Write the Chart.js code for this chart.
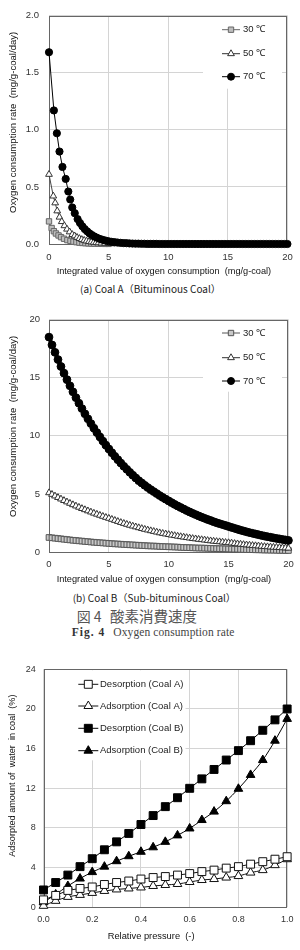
<!DOCTYPE html>
<html><head><meta charset="utf-8">
<script src="https://cdn.jsdelivr.net/npm/chart.js@4"></script>
<style>
html,body{margin:0;padding:0;background:#fff;}
#wrap{position:relative;width:300px;height:950px;overflow:hidden;background:#fff;}
canvas{position:absolute;left:0;}
.cap{position:absolute;white-space:nowrap;color:#222;}
.jp{font-family:'Noto Sans CJK JP',sans-serif;}
.serif{font-family:'Liberation Serif',serif;}
</style></head><body><div id="wrap">
<canvas id="cA" width="300" height="280" style="top:0px"></canvas>
<div class="cap jp" style="left:80px;top:282px;font-size:10px;line-height:14px;">(a) Coal A（Bituminous Coal）</div>
<canvas id="cB" width="300" height="280" style="top:305px"></canvas>
<div class="cap jp" style="left:72.7px;top:591px;font-size:10px;line-height:14px;">(b) Coal B（Sub-bituminous Coal）</div>
<div class="cap jp" style="left:76.7px;top:607px;font-size:14px;line-height:18px;color:#555;">図 4</div>
<div class="cap jp" style="left:110px;top:607px;font-size:14.5px;line-height:18px;color:#555;">酸素消費速度</div>
<div class="cap serif" style="left:71.7px;top:625px;font-size:11.5px;line-height:14px;font-weight:bold;letter-spacing:1px;color:#333;">Fig. 4</div>
<div class="cap serif" style="left:113.3px;top:625px;font-size:11.5px;line-height:14px;letter-spacing:0.1px;color:#444;">Oxygen consumption rate</div>
<canvas id="cC" width="300" height="295" style="top:655px"></canvas>
</div>
<script>
// ---------- data ----------
const tempLabels = ['30 ℃', '50 ℃', '70 ℃'];

// Chart (a) Coal A
const xA30 = [0,0.22,0.41,0.58,0.8,1.01,1.26,1.54,1.8,2.05,2.3,2.55,2.8,3.05,3.3,3.55,3.8,4.1,4.4,4.7,5.0];
const yA30 = [0.198,0.14,0.112,0.092,0.075,0.06,0.046,0.034,0.027,0.021,0.016,0.012,0.009,0.007,0.005,0.004,0.003,0.002,0.002,0.001,0.001];
const xA50 = [0,0.36,0.52,0.69,0.88,1.07,1.29,1.51,1.73,1.95,2.15,2.35,2.55,2.75,2.95,3.15,3.35,3.55,3.75,3.95,4.15,4.4,4.7,5.0,5.3,5.6];
const yA50 = [0.61,0.42,0.36,0.29,0.235,0.196,0.16,0.13,0.106,0.083,0.071,0.058,0.048,0.039,0.032,0.026,0.021,0.018,0.014,0.012,0.01,0.008,0.006,0.004,0.003,0.002];
const xA70 = [0,0.41,0.66,0.88,1.13,1.4,1.62,1.78,1.95,2.16,2.4,2.6,2.8,3,3.2,3.4,3.6,3.8,4,
  4.25,4.5,4.75,5,5.25,5.5,5.75,6,6.25,6.5,6.75,7,7.25,7.5,7.75,8,8.25,8.5,8.75,9,
  9.25,9.5,9.75,10,10.25,10.5,10.75,11,11.25,11.5,11.75,12,12.25,12.5,12.75,13,13.25,13.5,13.75,14,14.25,14.5,14.75,
  15,15.25,15.5,15.75,16,16.25,16.5,16.75,17,17.25,17.5,17.75,18,18.25,18.5,18.75,19,19.25,19.5,19.75,20];
const yA70 = [1.68,1.17,0.97,0.81,0.675,0.57,0.46,0.39,0.32,0.27,0.218,0.184,0.155,0.131,0.111,0.093,0.079,0.066,0.056,
  0.045,0.037,0.03,0.024,0.019,0.016,0.013,0.01,0.008,0.007,0.005,0.004,0.003,0.003,0.002,0.002,0.001,0.001,0.001,0.001,
  0,0,0,0,0,0,0,0,0,0,0, 0,0,0,0,0,0,0,0,0,0,0, 0,0,0,0,0,0,0,0,0,0,0, 0,0,0,0,0,0,0,0,0,0,0];

// Chart (b) Coal B
const xB = [0,0.25,0.5,0.75,1,1.25,1.5,1.75,2,2.25,2.5,2.75,3,3.25,3.5,3.75,4,4.25,4.5,4.75,
  5,5.25,5.5,5.75,6,6.25,6.5,6.75,7,7.25,7.5,7.75,8,8.25,8.5,8.75,9,9.25,9.5,9.75,
  10,10.25,10.5,10.75,11,11.25,11.5,11.75,12,12.25,12.5,12.75,13,13.25,13.5,13.75,14,14.25,14.5,14.75,
  15,15.25,15.5,15.75,16,16.25,16.5,16.75,17,17.25,17.5,17.75,18,18.25,18.5,18.75,19,19.25,19.5,19.75,20];
const yB30 = [1.25,1.22,1.19,1.16,1.13,1.1,1.07,1.04,1.01,0.99,
  0.96,0.94,0.91,0.89,0.86,0.84,0.82,0.8,0.78,0.76,
  0.74,0.72,0.7,0.69,0.67,0.65,0.64,0.62,0.61,0.59,
  0.58,0.56,0.55,0.53,0.52,0.51,0.5,0.48,0.47,0.46,
  0.45,0.44,0.43,0.42,0.4,0.39,0.38,0.37,0.36,0.35,
  0.34,0.34,0.33,0.32,0.31,0.3,0.29,0.28,0.28,0.27,
  0.26,0.25,0.24,0.24,0.23,0.22,0.21,0.21,0.2,0.19,
  0.19,0.18,0.17,0.17,0.16,0.16,0.15,0.14,0.14,0.13,0.13];
const yB50 = [5.1,4.96,4.82,4.69,4.56,4.43,4.31,4.19,4.07,3.96,
  3.85,3.74,3.64,3.54,3.44,3.34,3.25,3.16,3.07,2.98,
  2.9,2.81,2.72,2.63,2.54,2.46,2.38,2.3,2.23,2.16,
  2.09,2.02,1.95,1.89,1.83,1.77,1.71,1.65,1.6,1.55,
  1.5,1.45,1.41,1.36,1.32,1.28,1.24,1.2,1.16,1.13,
  1.09,1.06,1.03,0.99,0.96,0.93,0.9,0.88,0.85,0.82,
  0.8,0.77,0.73,0.7,0.67,0.64,0.61,0.59,0.56,0.54,
  0.52,0.49,0.47,0.45,0.43,0.41,0.4,0.38,0.36,0.35,0.33];
const yB70 = [18.5,17.83,17.19,16.57,15.97,15.4,14.84,14.31,13.79,13.29,
  12.81,12.35,11.9,11.47,11.06,10.66,10.28,9.91,9.55,9.2,
  8.87,8.55,8.24,7.95,7.66,7.38,7.12,6.86,6.61,6.37,
  6.14,5.94,5.74,5.55,5.37,5.2,5.03,4.86,4.7,4.55,
  4.4,4.25,4.1,3.96,3.83,3.7,3.57,3.45,3.33,3.22,
  3.11,3,2.9,2.8,2.71,2.61,2.52,2.44,2.36,2.28,
  2.2,2.12,2.04,1.96,1.88,1.81,1.74,1.67,1.61,1.55,
  1.49,1.43,1.37,1.32,1.27,1.22,1.17,1.13,1.08,1.04,1];

// Chart (c) water adsorption
const isoLabels = ['Desorption (Coal A)', 'Adsorption (Coal A)', 'Desorption (Coal B)', 'Adsorption (Coal B)'];
const relPressure = [0,0.05,0.1,0.15,0.2,0.25,0.3,0.35,0.4,0.45,0.5,0.55,0.6,0.65,0.7,0.75,0.8,0.85,0.9,0.95,1.0];
const desorptionA = [0.75,1.2,1.7,1.9,2.05,2.3,2.5,2.65,2.85,3.0,3.1,3.25,3.4,3.6,3.75,3.95,4.1,4.35,4.6,4.85,5.1];
const adsorptionA = [0.15,0.65,1.05,1.25,1.45,1.65,1.8,1.9,2.0,2.15,2.25,2.35,2.55,2.75,2.85,3.0,3.15,3.5,3.75,4.25,4.85];
const desorptionB = [1.75,2.5,3.25,4.1,4.9,5.8,6.6,7.45,8.35,9.25,10.15,11.05,12.0,12.95,13.9,14.85,15.8,16.8,17.85,18.9,20.0];
const adsorptionB = [0.5,1.3,2.15,2.9,3.55,4.1,4.65,5.15,5.6,6.05,6.6,7.25,7.95,8.8,9.65,10.7,11.95,13.35,14.85,16.8,19.0];

// tick labels
const ticksA_x = [0,5,10,15,20];
const ticksA_y = [0,0.5,1,1.5,2];
const ticksB_x = [0,5,10,15,20];
const ticksB_y = [0,5,10,15,20];
const ticksC_x = [0,0.2,0.4,0.6,0.8,1.0];
const ticksC_y = [0,4,8,12,16,20,24];

// ---------- helpers ----------
const pts = (xs, ys) => xs.map((x, i) => ({x: x, y: ys[i]}));
const SANS = 'Liberation Sans';

function drawMarker(ctx, style, r, x, y, fill, stroke, bw) {
  ctx.save();
  ctx.beginPath();
  if (style === 'circle') ctx.arc(x, y, r, 0, Math.PI * 2);
  else if (style === 'rect') { const s = Math.SQRT1_2 * r; ctx.rect(x - s, y - s, 2 * s, 2 * s); }
  else if (style === 'triangle') {
    ctx.moveTo(x, y - r);
    ctx.lineTo(x + Math.sin(2 * Math.PI / 3) * r, y + 0.5 * r);
    ctx.lineTo(x - Math.sin(2 * Math.PI / 3) * r, y + 0.5 * r);
    ctx.closePath();
  }
  ctx.fillStyle = fill; ctx.fill();
  ctx.lineWidth = bw; ctx.strokeStyle = stroke; ctx.stroke();
  ctx.restore();
}

function makeDecor(cfg) {
  return {
    id: 'decor',
    beforeDatasetsDraw(chart) {
      const ctx = chart.ctx, a = chart.chartArea;
      ctx.save();
      ctx.fillStyle = '#fff';
      ctx.fillRect(a.left + cfg.box[0], a.top + cfg.box[1], cfg.box[2], cfg.box[3]);
      ctx.strokeStyle = '#666';
      ctx.lineWidth = 1;
      ctx.strokeRect(Math.round(a.left) + 0.5, Math.round(a.top) + 0.5,
                     Math.round(a.right) - Math.round(a.left) - 1, Math.round(a.bottom) - Math.round(a.top));
      ctx.font = cfg.font;
      ctx.textBaseline = 'middle';
      ctx.textAlign = 'left';
      cfg.items.forEach(it => {
        const ds = chart.data.datasets[it.ds];
        const y = a.top + it.y;
        ctx.beginPath();
        ctx.strokeStyle = ds.pointBorderColor; ctx.lineWidth = 1;
        ctx.moveTo(a.left + cfg.lineX[0], y); ctx.lineTo(a.left + cfg.lineX[1], y);
        ctx.stroke();
        drawMarker(ctx, ds.pointStyle, cfg.markerR[it.ds], a.left + (cfg.lineX[0] + cfg.lineX[1]) / 2, y,
                   ds.pointBackgroundColor, ds.pointBorderColor, ds.pointBorderWidth);
        ctx.fillStyle = '#222';
        ctx.fillText(ds.label, a.left + cfg.textX, y);
      });
      ctx.restore();
    }
  };
}

function axis(o) {
  return {
    type: 'linear', min: o.min, max: o.max,
    afterBuildTicks: s => { s.ticks = o.ticks.map(v => ({value: v})); },
    afterFit: s => { if (o.w !== undefined) s.width = o.w; if (o.h !== undefined) s.height = o.h; },
    grid: {color: '#d4d4d4', lineWidth: 1, drawTicks: false},
    border: {display: false},
    ticks: {autoSkip: false, maxRotation: 0, padding: o.tpad, color: '#333',
            font: {family: SANS, size: o.tsize}, callback: o.fmt},
    title: {display: true, text: o.title, align: o.align, color: '#111',
            font: {family: SANS, size: o.titleSize}, padding: o.titlePad}
  };
}

const common = {responsive: false, animation: false, devicePixelRatio: 1,
  plugins: {legend: {display: false}, tooltip: {enabled: false}}};

// ---------- chart (a) ----------
new Chart(document.getElementById('cA'), {
  type: 'scatter',
  data: {datasets: [
    {label: tempLabels[0], data: pts(xA30, yA30), showLine: true, order: 2, clip: false,
     pointStyle: 'rect', pointRadius: 3.8, pointBackgroundColor: '#bdbdbd', pointBorderColor: '#666', pointBorderWidth: 1,
     borderColor: '#666', borderWidth: 1},
    {label: tempLabels[1], data: pts(xA50, yA50), showLine: true, order: 1, clip: false,
     pointStyle: 'triangle', pointRadius: 3.9, pointBackgroundColor: '#fff', pointBorderColor: '#333', pointBorderWidth: 1,
     borderColor: '#444', borderWidth: 1},
    {label: tempLabels[2], data: pts(xA70, yA70), showLine: true, order: 0, clip: false,
     pointStyle: 'circle', pointRadius: 3.6, pointBackgroundColor: '#000', pointBorderColor: '#000', pointBorderWidth: 1,
     borderColor: '#000', borderWidth: 1}
  ]},
  options: Object.assign({}, common, {
    layout: {padding: {top: 12, right: 8, bottom: 3.4, left: 0}},
    scales: {
      x: axis({min: 0, max: 20, ticks: ticksA_x, h: 32.6, tpad: 7.3, tsize: 9.5, fmt: v => String(v),
               title: '   Integrated value of oxygen consumption  (mg/g-coal)', align: 'start', titleSize: 9.2,
               titlePad: {top: 0, bottom: 0}}),
      y: axis({min: 0, max: 2, ticks: ticksA_y, w: 49, tpad: 10, tsize: 9.5, fmt: v => Number(v).toFixed(1),
               title: 'Oxygen consumption rate  (mg/g-coal/day)      ', align: 'end', titleSize: 9.6,
               titlePad: {top: 8, bottom: 0}})
    }
  }),
  plugins: [makeDecor({box: [154, 1, 79, 72], lineX: [173, 191], textX: 194, font: '9.5px "Liberation Sans"',
    markerR: [3.8, 3.9, 3.5], items: [{ds: 0, y: 14}, {ds: 1, y: 38}, {ds: 2, y: 61}]})]
});

// ---------- chart (b) ----------
new Chart(document.getElementById('cB'), {
  type: 'scatter',
  data: {datasets: [
    {label: tempLabels[0], data: pts(xB, yB30), showLine: true, order: 2, clip: false,
     pointStyle: 'rect', pointRadius: 4, pointBackgroundColor: '#c8c8c8', pointBorderColor: '#555', pointBorderWidth: 1,
     borderColor: '#555', borderWidth: 2},
    {label: tempLabels[1], data: pts(xB, yB50), showLine: true, order: 1, clip: false,
     pointStyle: 'triangle', pointRadius: 3.9, pointBackgroundColor: '#fff', pointBorderColor: '#333', pointBorderWidth: 1,
     borderColor: '#333', borderWidth: 1.5},
    {label: tempLabels[2], data: pts(xB, yB70), showLine: true, order: 0, clip: false,
     pointStyle: 'circle', pointRadius: 3.9, pointBackgroundColor: '#000', pointBorderColor: '#000', pointBorderWidth: 1,
     borderColor: '#000', borderWidth: 4}
  ]},
  options: Object.assign({}, common, {
    layout: {padding: {top: 14.7, right: 8, bottom: 0.4, left: 0}},
    scales: {
      x: axis({min: 0, max: 20, ticks: ticksB_x, h: 32.6, tpad: 6.3, tsize: 9.5, fmt: v => String(v),
               title: '   Integrated value of oxygen consumption  (mg/g-coal)', align: 'start', titleSize: 9.2,
               titlePad: {top: 0, bottom: 0}}),
      y: axis({min: 0, max: 20, ticks: ticksB_y, w: 49, tpad: 9, tsize: 9.5, fmt: v => String(v),
               title: 'Oxygen consumption rate  (mg/g-coal/day)      ', align: 'end', titleSize: 9.6,
               titlePad: {top: 8, bottom: 0}})
    }
  }),
  plugins: [makeDecor({box: [154, 1, 79, 71], lineX: [173, 191], textX: 194, font: '9.5px "Liberation Sans"',
    markerR: [3.8, 3.9, 3.5], items: [{ds: 0, y: 13.3}, {ds: 1, y: 38}, {ds: 2, y: 61.3}]})]
});

// ---------- chart (c) ----------
new Chart(document.getElementById('cC'), {
  type: 'scatter',
  data: {datasets: [
    {label: isoLabels[0], data: pts(relPressure, desorptionA), showLine: true, clip: false,
     pointStyle: 'rect', pointRadius: 5.6, pointBackgroundColor: '#fff', pointBorderColor: '#111', pointBorderWidth: 1,
     borderColor: '#111', borderWidth: 1},
    {label: isoLabels[1], data: pts(relPressure, adsorptionA), showLine: true, clip: false, cubicInterpolationMode: 'monotone',
     pointStyle: 'triangle', pointRadius: 5, pointBackgroundColor: '#fff', pointBorderColor: '#111', pointBorderWidth: 1,
     borderColor: '#111', borderWidth: 1},
    {label: isoLabels[2], data: pts(relPressure, desorptionB), showLine: true, clip: false,
     pointStyle: 'rect', pointRadius: 5.6, pointBackgroundColor: '#000', pointBorderColor: '#000', pointBorderWidth: 1,
     borderColor: '#000', borderWidth: 1},
    {label: isoLabels[3], data: pts(relPressure, adsorptionB), showLine: true, clip: false, cubicInterpolationMode: 'monotone',
     pointStyle: 'triangle', pointRadius: 5, pointBackgroundColor: '#000', pointBorderColor: '#000', pointBorderWidth: 1,
     borderColor: '#000', borderWidth: 1}
  ]},
  options: Object.assign({}, common, {
    layout: {padding: {top: 14.3, right: 8, bottom: 7.7, left: 0}},
    scales: {
      x: axis({min: 0, max: 1, ticks: ticksC_x, h: 35, tpad: 6.6, tsize: 9, fmt: v => Number(v).toFixed(1),
               title: 'Relative pressure  (-)           ', align: 'center', titleSize: 9.3,
               titlePad: {top: 0, bottom: 0}}),
      y: axis({min: 0, max: 24, ticks: ticksC_y, w: 43.5, tpad: 7.8, tsize: 9, fmt: v => String(v),
               title: 'Adsorpted amount of  water  in coal  (%)          ', align: 'end', titleSize: 9.1,
               titlePad: {top: 6.6, bottom: 0}})
    }
  }),
  plugins: [makeDecor({box: [1, 1, 141, 90], lineX: [34.8, 54.8], textX: 56.5, font: '9.5px "Liberation Sans"',
    markerR: [5.6, 5, 5.6, 5], items: [{ds: 0, y: 15}, {ds: 1, y: 36.7}, {ds: 2, y: 59}, {ds: 3, y: 81.4}]})]
});
</script>
</body></html>
